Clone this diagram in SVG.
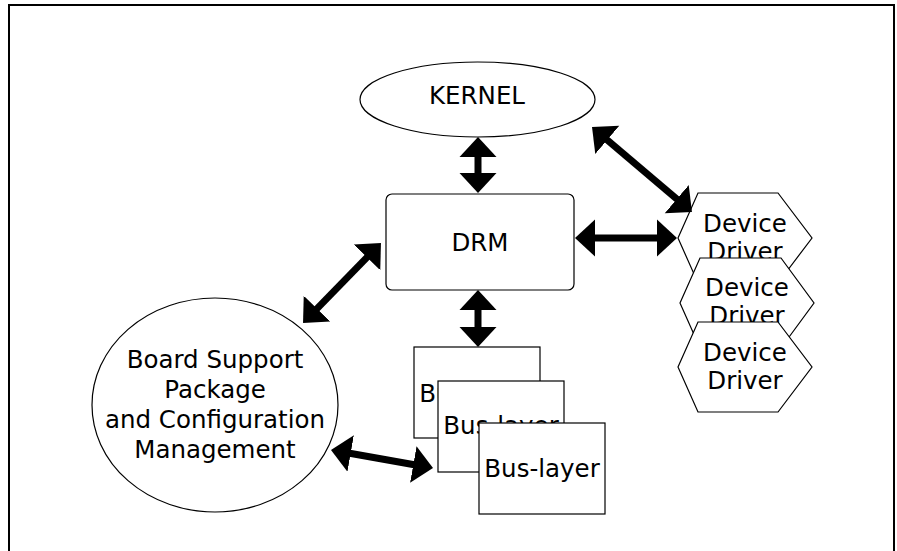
<svg xmlns="http://www.w3.org/2000/svg" width="897" height="551" viewBox="0 0 897 551">
<style>
  .shape { fill: #fff; stroke: #000; stroke-width: 1.2; }
  .lbl { font-family: "DejaVu Sans", Verdana, sans-serif; font-size: 24.5px; fill: #000; text-anchor: middle; }
  .conn { stroke: #000; stroke-width: 7; fill: none; marker-start: url(#ah); marker-end: url(#ah); }
</style>
<defs>
  <marker id="ah" markerUnits="userSpaceOnUse" markerWidth="22" markerHeight="40" viewBox="0 -20 22 40" refX="1" refY="0" orient="auto-start-reverse">
    <path d="M0,-18.5 L20,0 L0,18.5 z" fill="#000"/>
  </marker>
</defs>
<rect x="0" y="0" width="897" height="551" fill="#fff"/>
<rect x="9" y="5" width="885" height="570" fill="none" stroke="#000" stroke-width="2"/>

<g id="kernel">
  <ellipse class="shape" cx="477.5" cy="99.5" rx="117.5" ry="37.5"/>
  <text class="lbl" x="477" y="104">KERNEL</text>
</g>
<g id="drm">
  <rect class="shape" x="386" y="194" width="188" height="96" rx="6" ry="6"/>
  <text class="lbl" x="480" y="251">DRM</text>
</g>
<g id="bsp">
  <ellipse class="shape" cx="215" cy="405" rx="123" ry="107"/>
  <text class="lbl" x="215" y="368">Board Support</text>
  <text class="lbl" x="215" y="398">Package</text>
  <text class="lbl" x="215" y="428">and Configuration</text>
  <text class="lbl" x="215" y="458">Management</text>
</g>
<g id="bus1">
  <rect class="shape" x="414" y="347" width="126" height="91"/>
  <text class="lbl" x="477" y="402">Bus-layer</text>
</g>
<g id="bus2">
  <rect class="shape" x="438" y="381" width="126" height="91"/>
  <text class="lbl" x="501" y="434">Bus-layer</text>
</g>
<g id="bus3">
  <rect class="shape" x="479" y="423" width="126" height="91"/>
  <text class="lbl" x="542" y="477">Bus-layer</text>
</g>
<g id="dev1">
  <polygon class="shape" points="678,238 698,193 778,193 812,238 778,283 698,283"/>
  <text class="lbl" x="745" y="232">Device</text>
  <text class="lbl" x="745" y="260">Driver</text>
</g>
<g id="dev2">
  <polygon class="shape" points="680,303 700,258 781,258 814,303 781,348 700,348"/>
  <text class="lbl" x="747" y="296">Device</text>
  <text class="lbl" x="747" y="324">Driver</text>
</g>
<g id="dev3">
  <polygon class="shape" points="678,367 698,322 778,322 812,367 778,412 698,412"/>
  <text class="lbl" x="745" y="361">Device</text>
  <text class="lbl" x="745" y="389">Driver</text>
</g>

<g id="connectors">
  <line class="conn" x1="478" y1="156" x2="478" y2="174"/>
  <line class="conn" x1="478" y1="309" x2="478" y2="328"/>
  <line class="conn" x1="594" y1="238" x2="658" y2="238"/>
  <line class="conn" x1="367.7" y1="256.6" x2="316.3" y2="309.4"/>
  <line class="conn" x1="606.5" y1="139.3" x2="677.5" y2="199.7"/>
  <line class="conn" x1="349.7" y1="453.3" x2="414.3" y2="464.7"/>
</g>
</svg>
